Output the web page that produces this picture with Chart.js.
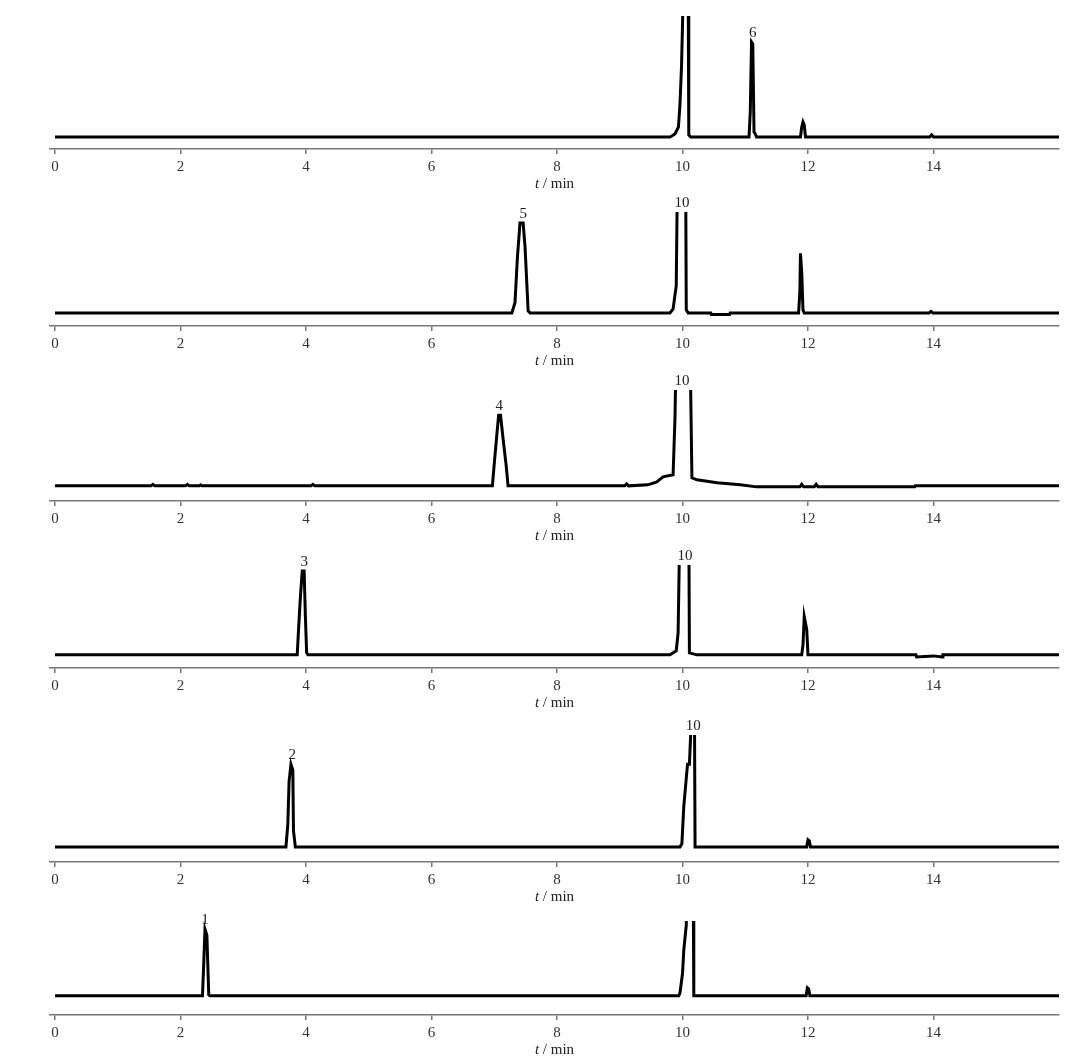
<!DOCTYPE html>
<html>
<head>
<meta charset="utf-8">
<script src="https://cdn.jsdelivr.net/npm/chart.js@4/dist/chart.umd.min.js"></script>
<style>
  body { margin: 0; background: #fff; }
  #wrap { position: relative; width: 1090px; height: 1061px; background: #fff; }
  #wrap canvas { position: absolute; left: 0; }
</style>
</head>
<body>
<div id="wrap"></div>
<script>
// tick labels of the time axis (min)
var xTicks = [0, 2, 4, 6, 8, 10, 12, 14];

// panel 1 (compound 6)
var t1 = [0, 9.80, 9.88, 9.935, 9.96, 9.985, 10.00, 10.015, 10.09, 10.10, 10.13, 11.06, 11.08, 11.10, 11.12, 11.14, 11.16, 11.18, 11.88, 11.90, 11.92, 11.94, 11.96, 13.94, 13.97, 14.00, 16.0];
var s1 = [0, 0, 3, 10, 33, 72, 112, 160, 160, 2, 0, 0, 25, 95, 93, 5, 3, 0, 0, 10, 15, 12, 0, 0, 2, 0, 0];
var names1 = ['6'];
var times1 = [11.12];

// panel 2 (compound 5)
var t2 = [0, 7.28, 7.33, 7.37, 7.41, 7.46, 7.49, 7.54, 7.57, 9.80, 9.85, 9.90, 9.92, 10.05, 10.06, 10.09, 10.45, 10.46, 10.75, 10.76, 11.85, 11.87, 11.88, 11.90, 11.92, 11.94, 13.93, 13.96, 13.99, 16.0];
var s2 = [0, 0, 10, 56, 89, 89, 66, 2, 0, 0, 4, 27, 140, 140, 3, 0, 0, -1.5, -1.5, 0, 0, 20, 59, 40, 3, 0, 0, 1.5, 0, 0];
var names2 = ['5', '10'];
var times2 = [7.46, 9.99];

// panel 3 (compound 4)
var t3 = [0, 1.53, 1.56, 1.59, 2.08, 2.11, 2.14, 2.30, 2.32, 2.34, 4.08, 4.11, 4.14, 6.97, 7.00, 7.04, 7.07, 7.10, 7.14, 7.19, 7.22, 9.08, 9.11, 9.14, 9.45, 9.59, 9.69, 9.85, 9.88, 9.90, 10.12, 10.15, 10.23, 10.55, 10.92, 11.18, 11.87, 11.90, 11.93, 12.10, 12.13, 12.16, 13.70, 13.71, 16.0];
var s3 = [0, 0, 1.5, 0, 0, 1.5, 0, 0, 1, 0, 0, 1.5, 0, 0, 22, 50, 70, 70, 47, 20, 0, 0, 2, 0, 1, 4, 9, 11, 67, 140, 140, 8, 6, 3, 1, -1, -1, 1.5, -1, -1, 1.5, -1, -1, 0, 0];
var names3 = ['4', '10'];
var times3 = [7.08, 9.99];

// panel 4 (compound 3)
var t4 = [0, 3.86, 3.88, 3.91, 3.94, 3.97, 3.99, 4.01, 4.03, 9.80, 9.90, 9.93, 9.96, 10.10, 10.11, 10.23, 11.90, 11.92, 11.94, 11.98, 12.00, 13.72, 13.73, 14.00, 14.14, 14.15, 16.0];
var s4 = [0, 0, 24, 57, 83, 83, 38, 2, 0, 0, 4, 22, 140, 140, 2, 0, 0, 10, 38, 25, 0, 0, -2, -1, -2, 0, 0];
var names4 = ['3', '10'];
var times4 = [3.97, 10.04];

// panel 5 (compound 2)
var t5 = [0, 3.68, 3.71, 3.73, 3.76, 3.79, 3.80, 3.83, 9.96, 9.99, 10.02, 10.08, 10.11, 10.15, 10.19, 10.20, 10.22, 11.98, 12.00, 12.02, 12.04, 16.0];
var s5 = [0, 0, 22, 65, 82, 76, 16, 0, 0, 3, 40, 82, 82, 140, 140, 0, 0, 0, 7, 6, 0, 0];
var names5 = ['2', '10'];
var times5 = [3.78, 10.17];

// panel 6 (compound 1)
var t6 = [0, 2.35, 2.37, 2.39, 2.42, 2.45, 2.47, 9.94, 9.96, 10.00, 10.02, 10.06, 10.08, 10.17, 10.18, 10.20, 11.97, 11.99, 12.01, 12.03, 16.0];
var s6 = [0, 0, 32, 66, 60, 1, 0, 0, 3, 22, 45, 70, 120, 120, 0, 0, 0, 8, 7, 0, 0];
var names6 = ['1'];
var times6 = [2.39];

var serif = '"Liberation Serif", "DejaVu Serif", serif';

// where each panel sits on the page
var panels = [
    {t: t1, s: s1, names: names1, times: times1, top: 0,   h: 195, padTop: 16, padBottom: 15, ymin: -12, ymax: 121},
    {t: t2, s: s2, names: names2, times: times2, top: 195, h: 175, padTop: 17, padBottom: 13, ymin: -13, ymax: 100},
    {t: t3, s: s3, names: names3, times: times3, top: 370, h: 170, padTop: 20, padBottom: 8, ymin: -15, ymax: 95},
    {t: t4, s: s4, names: names4, times: times4, top: 540, h: 170, padTop: 25, padBottom: 11, ymin: -13, ymax: 89},
    {t: t5, s: s5, names: names5, times: times5, top: 710, h: 195, padTop: 25, padBottom: 12, ymin: -15, ymax: 111},
    {t: t6, s: s6, names: names6, times: times6, top: 905, h: 156, padTop: 16, padBottom: 15, ymin: -19, ymax: 74}
];

// peak numbers above the peaks
var peakLabels = {
    id: 'peakLabels',
    afterDatasetsDraw: function(chart, args, opts) {
        var ctx = chart.ctx;
        var xs = chart.scales.x, ys = chart.scales.y;
        var pts = chart.data.datasets[0].data;
        ctx.save();
        ctx.font = '15px ' + serif;
        ctx.fillStyle = '#222';
        ctx.textAlign = 'center';
        ctx.textBaseline = 'alphabetic';
        for (var i = 0; i < opts.names.length; i++) {
            var tm = opts.times[i];
            var top = 0;
            pts.forEach(function(p) {
                if (Math.abs(p.x - tm) < 0.09 && p.y > top) top = p.y;
            });
            if (top > ys.max) top = ys.max;
            ctx.fillText(opts.names[i], xs.getPixelForValue(tm), ys.getPixelForValue(top) - 5);
        }
        ctx.restore();
    }
};

// "t / min" under each axis, t in italics
var axisTitle = {
    id: 'axisTitle',
    afterDraw: function(chart) {
        var ctx = chart.ctx;
        var a = chart.chartArea;
        var cx = (a.left + a.right) / 2;
        var y = a.bottom + 35;
        ctx.save();
        ctx.fillStyle = '#222';
        ctx.textBaseline = 'middle';
        ctx.font = 'italic 15px ' + serif;
        var w1 = ctx.measureText('t').width;
        ctx.font = '15px ' + serif;
        var w2 = ctx.measureText(' / min').width;
        var x0 = cx - (w1 + w2) / 2;
        ctx.textAlign = 'left';
        ctx.font = 'italic 15px ' + serif;
        ctx.fillText('t', x0, y);
        ctx.font = '15px ' + serif;
        ctx.fillText(' / min', x0 + w1, y);
        ctx.restore();
    }
};

var wrap = document.getElementById('wrap');

panels.forEach(function(p, idx) {
    var cv = document.createElement('canvas');
    cv.width = 1090;
    cv.height = p.h;
    cv.style.top = p.top + 'px';
    cv.style.width = '1090px';
    cv.style.height = p.h + 'px';
    wrap.appendChild(cv);

    var pts = p.t.map(function(v, i) { return {x: v, y: p.s[i]}; });

    new Chart(cv.getContext('2d'), {
        type: 'line',
        data: {
            datasets: [{
                data: pts,
                borderColor: '#000',
                borderWidth: 3,
                pointRadius: 0,
                tension: 0,
                fill: false
            }]
        },
        options: {
            responsive: false,
            animation: false,
            devicePixelRatio: 1,
            layout: {padding: {left: 50, right: 31, top: p.padTop, bottom: p.padBottom}},
            plugins: {
                legend: {display: false},
                tooltip: {enabled: false},
                peakLabels: {names: p.names, times: p.times}
            },
            scales: {
                x: {
                    type: 'linear',
                    min: -0.08,
                    max: 16,
                    afterBuildTicks: function(scale) {
                        scale.ticks = xTicks.map(function(v) { return {value: v}; });
                    },
                    border: {display: true, color: '#777', width: 1.5},
                    grid: {display: true, drawOnChartArea: false, drawTicks: true, tickLength: 5, color: '#777', lineWidth: 1.5},
                    ticks: {
                        color: '#333',
                        padding: 4,
                        maxRotation: 0,
                        autoSkip: false,
                        font: {family: serif, size: 15}
                    }
                },
                y: {
                    display: false,
                    min: p.ymin,
                    max: p.ymax
                }
            }
        },
        plugins: [peakLabels, axisTitle]
    });
});
</script>
</body>
</html>
